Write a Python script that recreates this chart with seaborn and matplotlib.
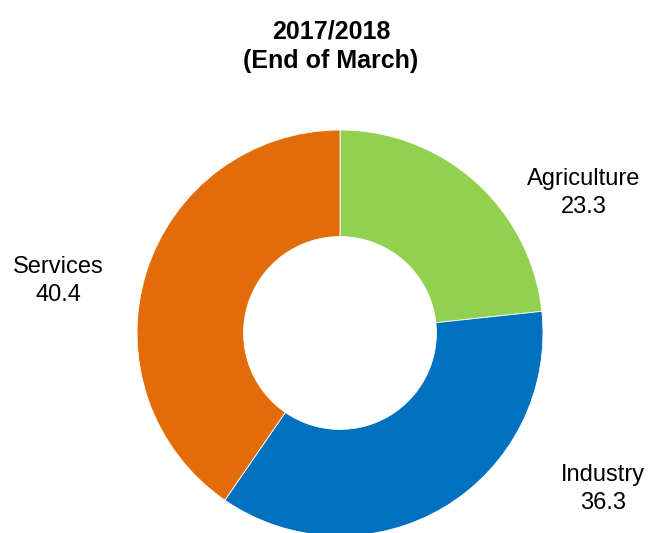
"""Donut chart of sector shares, 2017/2018 (end of March)."""

import matplotlib
matplotlib.use("Agg")
import matplotlib.pyplot as plt
import seaborn as sns

sectors = ["Agriculture", "Industry", "Services"]
shares  = [23.3, 36.3, 40.4]
colors  = ["#92D050", "#0070C0", "#E36C0A"]

# label anchors in pixels (x, y from top-left)
label_px = [(584, 193), (603, 489), (58, 281)]

W, H = 650, 533
CX, CY, R = 340, 333, 203

sns.set_theme(style="white")
plt.rcParams["font.family"] = ["Liberation Sans Narrow", "Liberation Sans", "DejaVu Sans"]
plt.rcParams["text.color"] = "black"

fig = plt.figure(figsize=(W / 100, H / 100), dpi=100)
ax = fig.add_axes([0, 0, 1, 1])

ax.pie(shares, colors=colors, startangle=90, counterclock=False,
       radius=1.0, wedgeprops={"width": 0.525, "edgecolor": "white", "linewidth": 0.6})

ax.set_xlim(-CX / R, (W - CX) / R)
ax.set_ylim(-(H - CY) / R, CY / R)
ax.set_aspect("auto")
ax.axis("off")

fig.text(331 / W, 1 - 46 / H, "2017/2018\n(End of March)", ha="center", va="center",
         fontsize=18, fontweight="bold", linespacing=1.3, color="black")

for name, val, (px, py) in zip(sectors, shares, label_px):
    fig.text(px / W, 1 - py / H, f"{name}\n{val:.1f}", ha="center", va="center",
             fontsize=17, linespacing=1.4, color="black")

fig.savefig("out.png", dpi=100)
plt.close()
